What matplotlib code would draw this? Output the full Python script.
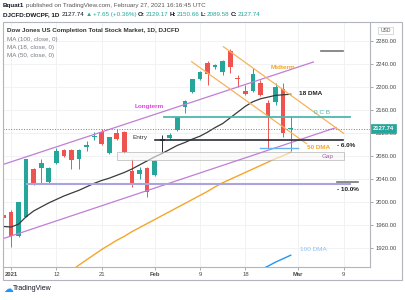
import numpy as np
import pandas as pd
import matplotlib
matplotlib.use('Agg')
import matplotlib.pyplot as plt
from matplotlib.patches import Rectangle

plt.rcParams['font.family'] = ['Liberation Sans', 'DejaVu Sans']

# trading days (NYSE holidays skipped), Dec 31 2020 .. Mar 12 2021
days = pd.bdate_range('2020-12-31', '2021-03-12', freq='C',
                      holidays=['2021-01-01', '2021-01-18', '2021-02-15'])

tick_dates = ['2021-01-04', '2021-01-12', '2021-01-21', '2021-02-01',
              '2021-02-09', '2021-02-18', '2021-03-01', '2021-03-09']
tick_labels = ['2021', '12', '21', 'Feb', '9', '18', 'Mar', '9']
price_ticks = [1920, 1960, 2000, 2040, 2080, 2120, 2160, 2200, 2240, 2280]

# daily candles Dec 31 .. Feb 26
opens = [1978, 1983, 1941, 1975, 2058, 2059, 2035, 2069, 2091, 2091, 2075, 2096, 2113,
         2122, 2085, 2120, 2122, 2054, 2050, 2059, 2047, 2106, 2112, 2126, 2165, 2192,
         2214, 2243, 2236, 2227, 2264, 2217, 2194, 2194, 2207, 2172, 2175, 2197, 2129.17]
highs = [1981, 1986, 2001, 2076, 2060, 2076, 2062, 2094, 2093, 2093, 2093, 2106, 2122,
         2128, 2114, 2128, 2124, 2075, 2062, 2061, 2073, 2117, 2120, 2150, 2178, 2215,
         2228, 2246, 2240, 2247, 2266, 2221, 2204, 2233, 2212, 2178, 2207, 2207, 2150.66]
lows = [1968, 1922, 1940, 1974, 2030, 2033, 2032, 2066, 2078, 2058, 2058, 2090, 2108,
        2100, 2084, 2108, 2086, 2026, 2040, 2010, 2045, 2085, 2108, 2124, 2156, 2190,
        2212, 2204, 2232, 2222, 2225, 2200, 2186, 2192, 2185, 2094, 2170, 2114, 2089.58]
closes = [1972, 1942, 2000, 2075, 2031, 2069, 2059, 2090, 2080, 2074, 2091, 2099, 2115,
          2101, 2113, 2110, 2087, 2032, 2056, 2018, 2072, 2110, 2117, 2148, 2177, 2214,
          2226, 2224, 2239, 2246, 2235, 2214, 2188, 2224, 2187, 2150, 2200, 2120.09, 2127.74]
last_change = 7.65

ma18 = [1958, 1957, 1962, 1975, 1985, 1992, 1999, 2005, 2011, 2016, 2021, 2027, 2033,
        2038, 2042, 2047, 2052, 2058, 2065, 2072, 2079, 2085, 2092, 2099, 2104, 2110,
        2115, 2122, 2130, 2137, 2147, 2157, 2167, 2175, 2180, 2183, 2186, 2187, 2188]
ma50_start = '2021-01-13'
ma50 = [1872, 1881, 1891, 1900, 1909, 1918, 1926, 1934, 1941, 1949, 1956, 1963, 1970,
        1977, 1984, 1991, 1998, 2005, 2012, 2019, 2027, 2034, 2040, 2046, 2052, 2058,
        2064, 2070, 2076, 2081, 2087]
ma100_start = '2021-02-22'
ma100 = [1883, 1889, 1896, 1902, 1908]

# drawings (bar number, price)
longterm_upper = ([0, 41], [2066, 2244])
longterm_lower = ([0, 44], [1937, 2130])
midterm_upper = ([29.1, 45], [2270.6, 2120])
midterm_lower = ([24.9, 40.1], [2244.5, 2102])
ocb_line = ([21.2, 45.8], 2149)
entry_line = ([20.05, 44.9], 2108)
gap_box = ([15.0, 45.0], [2074, 2088])
low_line = ([33.9, 39.0], 2094)
minus10_line = ([3.1, 45.8], 2031)
top_marker = ([42.0, 44.9], 2264)
minus10_marker = ([44.1, 46.9], 2036)
last_price = 2127.74

W, H = 406, 300
up, down = '#26a69a', '#ef5350'

fig = plt.figure(figsize=(W / 100, H / 100), dpi=100)
ax = fig.add_axes([3 / W, 1 - 267 / H, 367 / W, 245 / H])
ax.set_xlim(-0.06, 48.49)
ax.set_ylim(1887.5, 2313.6)

pos = np.arange(len(opens))
cols = [up if c >= o else down for o, c in zip(opens, closes)]
cols[21] = '#2a2e39'
cols[-1] = up if last_change > 0 else down
ax.vlines(pos, lows, highs, colors=cols, lw=0.7, zorder=3)
ax.bar(pos, [max(abs(c - o), 1.5) for o, c in zip(opens, closes)],
       bottom=[min(o, c) for o, c in zip(opens, closes)], width=0.62,
       color=cols, zorder=3)

p50 = days.get_loc(pd.Timestamp(ma50_start))
p100 = days.get_loc(pd.Timestamp(ma100_start))
ax.plot(pos, ma18, color='#3a3a3a', lw=0.9, zorder=4)
ax.plot(np.arange(p50, p50 + len(ma50)), ma50, color='#f4a62a', lw=1.0, zorder=4)
ax.plot(np.arange(p100, p100 + len(ma100)), ma100, color='#2196f3', lw=1.0, zorder=4)

# channels and levels
for xs, ys in [longterm_upper, longterm_lower]:
    ax.plot(xs, ys, color='#c07ed6', lw=0.9, zorder=5)
for xs, ys in [midterm_upper, midterm_lower]:
    ax.plot(xs, ys, color='#f6b35a', lw=0.9, zorder=5)
ax.plot(ocb_line[0], [ocb_line[1]] * 2, color='#4db6ac', lw=1.3, zorder=5)
ax.plot(entry_line[0], [entry_line[1]] * 2, color='#2a2e39', lw=1.2, zorder=5)
ax.add_patch(Rectangle((gap_box[0][0], gap_box[1][0]), gap_box[0][1] - gap_box[0][0],
                       gap_box[1][1] - gap_box[1][0], fc='#f7f7f7', ec='#a8a8a8',
                       lw=0.7, alpha=0.6, zorder=4.5))
ax.plot(low_line[0], [low_line[1]] * 2, color='#64b5f6', lw=1.0, zorder=5)
ax.plot(minus10_line[0], [minus10_line[1]] * 2, color='#a9a3e0', lw=1.5, zorder=5)
ax.plot(top_marker[0], [top_marker[1]] * 2, color='#777777', lw=1.2, zorder=5)
ax.plot(minus10_marker[0], [minus10_marker[1]] * 2, color='#777777', lw=1.2, zorder=5)
ax.axhline(last_price, color=up, lw=0.7, ls=':', zorder=5)

lab = dict(fontsize=4.6, va='center', zorder=6)
ax.text(37.0, 2233.6, 'Midterm', color='#f5a623', fontweight='bold', ha='center', **lab)
ax.text(39.1, 2190, '18 DMA', color='#1e1e1e', fontweight='bold', ha='left', **lab)
ax.text(19.25, 2166, 'Longterm', color='#dc48dc', fontweight='bold', ha='center', **lab)
ax.text(18.1, 2112, 'Entry', color='#333333', ha='center', **lab)
ax.text(42.1, 2156, '0 C B', color='#4db6ac', ha='center', **lab)
ax.text(44.1, 2098, '- 6.0%', color='#1e1e1e', fontweight='bold', ha='left', **lab)
ax.text(40.15, 2095.7, '50 DMA', color='#f5a623', fontweight='bold', ha='left', **lab)
ax.text(42.9, 2080.5, 'Gap', color='#a0609f', ha='center', **lab)
ax.text(44.1, 2022.6, '- 10.0%', color='#1e1e1e', fontweight='bold', ha='left', **lab)
ax.text(39.2, 1918.8, '100 DMA', color='#90bff0', ha='left', **lab)

# axes styling
ax.set_xticks([days.get_loc(pd.Timestamp(d)) for d in tick_dates])
ax.set_xticklabels(tick_labels)
for t in ax.get_xticklabels():
    if not t.get_text().isdigit() or t.get_text() == '2021':
        t.set_fontweight('bold')
ax.set_yticks(price_ticks)
ax.set_yticklabels(['%.2f' % p for p in price_ticks])
ax.yaxis.tick_right()
ax.tick_params(axis='y', length=2.5, width=0.5, color='#888888', labelsize=4.2,
               labelcolor='#4a4a4a', pad=1.5)
ax.tick_params(axis='x', length=2, width=0.5, color='#888888', labelsize=4.2,
               labelcolor='#4a4a4a', pad=1.8)
ax.grid(color='#eef0f3', lw=0.6, zorder=0)
ax.set_axisbelow(True)
for s in ['left', 'top']:
    ax.spines[s].set_visible(False)
for s in ['right', 'bottom']:
    ax.spines[s].set_color('#b2b5be')
    ax.spines[s].set_linewidth(0.8)

fig.patches.append(Rectangle((3 / W, 1 - 280 / H), 399 / W, 258 / H, transform=fig.transFigure,
                             fill=False, ec='#b2b5be', lw=0.8))

# price tag and currency box
fig.patches.append(Rectangle((371 / W, 1 - 133.2 / H), 25 / W, 9 / H, transform=fig.transFigure,
                             fc=up, ec=up, lw=0.5))
fig.text(383.5 / W, 1 - 128.7 / H, '%.2f' % last_price, color='white', fontsize=4.2,
         fontweight='bold', ha='center', va='center')
fig.patches.append(Rectangle((378 / W, 1 - 33.5 / H), 15 / W, 7 / H, transform=fig.transFigure,
                             fc='white', ec='#c8cad0', lw=0.5))
fig.text(385.5 / W, 1 - 30 / H, 'USD', color='#555555', fontsize=3.6, ha='center', va='center')

# header lines
r = fig.canvas.get_renderer()


def run(x_px, y_px, parts, size):
    x = x_px / W
    for s, col, wt, gap in parts:
        t = fig.text(x, 1 - y_px / H, s, color=col, fontweight=wt, fontsize=size, va='center')
        x += (t.get_window_extent(r).width + gap) / W


dark, grey, teal = '#131722', '#555555', '#26a69a'
run(3, 5.5, [('Bquat1', dark, 'bold', 1.5),
             ('published on TradingView.com, February 27, 2021 16:16:45 UTC', grey, 'normal', 0)], 4.5)
run(3, 14.5, [('DJCFD:DWCPF, 1D', dark, 'bold', 1.8), ('2127.74', dark, 'normal', 1.5),
              ('▲', teal, 'normal', 1.2), ('+7.65 (+0.36%)', teal, 'normal', 1.8),
              ('O:', dark, 'bold', 0), ('2129.17', teal, 'normal', 1.8),
              ('H:', dark, 'bold', 0), ('2150.66', teal, 'normal', 1.8),
              ('L:', dark, 'bold', 0), ('2089.58', teal, 'normal', 1.8),
              ('C:', dark, 'bold', 0), ('2127.74', teal, 'normal', 0)], 4.5)

# legend block inside the chart
fig.text(7.3 / W, 1 - 30.7 / H, 'Dow Jones US Completion Total Stock Market, 1D, DJCFD',
         color='#333333', fontsize=4.5, fontweight='bold', va='center')
for k, s in enumerate(['MA (100, close, 0)', 'MA (18, close, 0)', 'MA (50, close, 0)']):
    fig.text(7.3 / W, 1 - (39.3 + 8.35 * k) / H, s, color='#787b86', fontsize=4.5, va='center')

# footer logo
fig.text(8 / W, 1 - 289 / H, '☁', family='DejaVu Sans', color='#2196f3', fontsize=7,
         ha='center', va='center')
fig.text(13 / W, 1 - 289 / H, 'TradingView', color='#131722', fontsize=5.0, va='center')

fig.savefig('out.png', dpi=100, facecolor='white')
